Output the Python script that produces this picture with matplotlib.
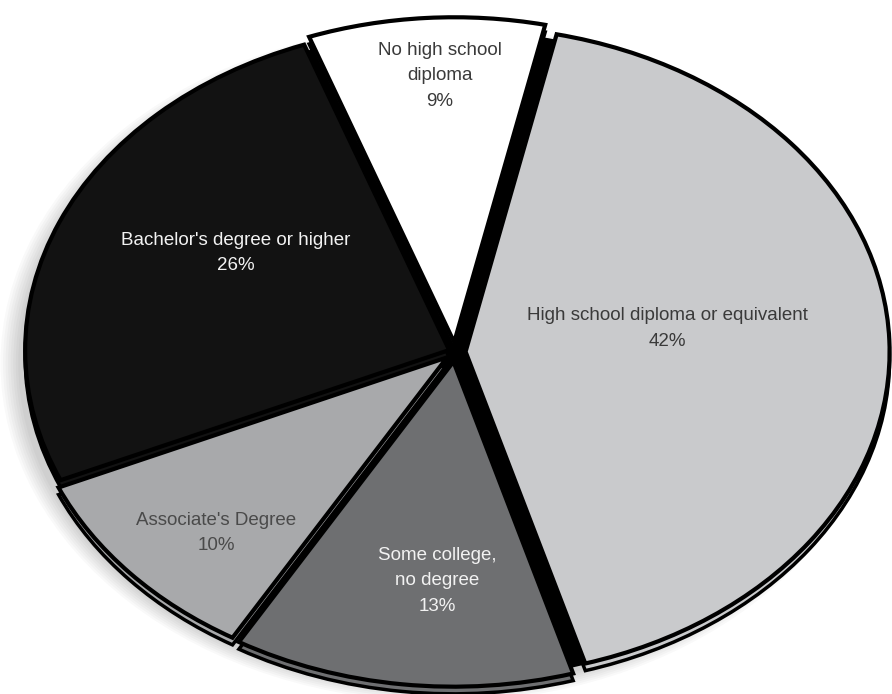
import numpy as np
import matplotlib.pyplot as plt
from matplotlib.patches import Ellipse

# data, clockwise from top
labels = ["No high school\ndiploma", "High school diploma or equivalent",
          "Some college,\nno degree", "Associate's Degree",
          "Bachelor's degree or higher"]
shares = [9, 42, 13, 10, 26]
colors = ["#ffffff", "#c9cacc", "#6e6f71", "#a8a9ab", "#121212"]
text_colors = ["#3a3a3a", "#3a3a3a", "#f2f2f2", "#4a4a4a", "#f2f2f2"]
explode = [0.03, 0.025, 0.03, 0.025, 0.015]

# where each label sits (angle in degrees, distance from centre)
label_angle = [92.4, 8.2, -93.4, -135.3, 149.4]
label_dist = [0.85, 0.507, 0.705, 0.792, 0.6]

fig = plt.figure(figsize=(8.92, 6.94), dpi=100)
ax = fig.add_axes([0, 0, 1, 1])

# soft shadow under the lower left of the pie
for i in range(8):
    ax.add_patch(Ellipse((-0.03, -0.035), 2.0 + 0.012 * i, 2.0 + 0.012 * i,
                         facecolor="black", edgecolor="none", alpha=0.025,
                         zorder=0))

# black fill so the gaps between slices read as thick dark seams
ax.pie([1], colors=["black"], radius=1.0, center=(0, -0.01),
       wedgeprops=dict(edgecolor="none"))

# the "thickness" rim, a copy of the pie pushed down a little
ax.pie(shares, explode=explode, colors=colors, startangle=110,
       counterclock=False, center=(0, -0.022),
       wedgeprops=dict(edgecolor="black", linewidth=2.5))

wedges, _ = ax.pie(shares, explode=explode, colors=colors, startangle=110,
                   counterclock=False,
                   wedgeprops=dict(edgecolor="black", linewidth=3,
                                   joinstyle="miter"))

for lab, val, ang, d, tc in zip(labels, shares, label_angle, label_dist,
                                text_colors):
    a = np.deg2rad(ang)
    ax.text(d * np.cos(a), d * np.sin(a), f"{lab}\n{val}%", ha="center",
            va="center", color=tc, fontsize=13.5, family="Liberation Sans",
            linespacing=1.65)

# stretch the pie into an ellipse like the original
ax.set_aspect("auto")
rx, ry = 424, 325
cx, cy = 455, 352
ax.set_xlim(-cx / rx, (892 - cx) / rx)
ax.set_ylim(-(694 - cy) / ry, cy / ry)
ax.axis("off")

fig.savefig("out.png", dpi=100)
